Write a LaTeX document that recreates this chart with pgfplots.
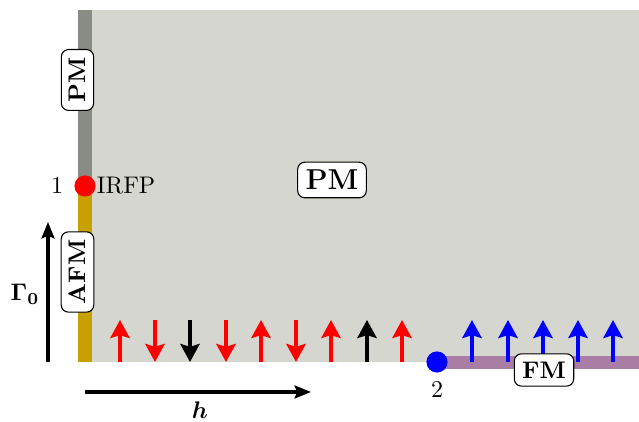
\documentclass[border=0pt]{standalone}
\usepackage{pgfplots}
\pgfplotsset{compat=1.18}
\usepackage{bm}
\usetikzlibrary{arrows.meta}
\definecolor{bggray}{RGB}{212,214,207}
\definecolor{pmgray}{RGB}{137,139,133}
\definecolor{afmgold}{RGB}{200,160,0}
\definecolor{fmpurple}{RGB}{170,125,165}
\tikzset{
  lbl/.style={draw=black, fill=white, rounded corners=3pt, line width=0.45pt, font=\bfseries, inner sep=3.3pt},
  spin/.style={line width=1.67pt, -{Stealth[length=7.5pt,width=8pt,inset=1.2pt]}},
  ax/.style={line width=1.3pt, black, -{Stealth[length=6.8pt,width=5.4pt,inset=1pt]}},
}
\begin{document}
\begin{tikzpicture}
\begin{axis}[
  scale only axis, width=266.25pt, height=175.83pt,
  xmin=0, xmax=639, ymin=0, ymax=422, y dir=reverse,
  hide axis, clip=false,
]
\coordinate (bbA) at (rel axis cs:0,0);
\coordinate (bbB) at (rel axis cs:1,1);
% PM region
\addplot[fill=bggray, draw=none] coordinates {(85,10) (639,10) (639,362) (85,362)} -- cycle;
% left phase lines
\addplot[pmgray, line width=5.83pt] coordinates {(85,10) (85,186)};
\addplot[afmgold, line width=5.83pt] coordinates {(85,186) (85,362)};
% FM line
\addplot[fmpurple, line width=5.4pt] coordinates {(437,362.5) (639,362.5)};
% spin arrows
\addplot[red, spin] coordinates {(120,362) (120,320)};
\addplot[red, spin] coordinates {(155,320) (155,362)};
\addplot[black, spin] coordinates {(190,320) (190,362)};
\addplot[red, spin] coordinates {(226,320) (226,362)};
\addplot[red, spin] coordinates {(261,362) (261,320)};
\addplot[red, spin] coordinates {(296,320) (296,362)};
\addplot[red, spin] coordinates {(331,362) (331,320)};
\addplot[black, spin] coordinates {(367,362) (367,320)};
\addplot[red, spin] coordinates {(402,362) (402,320)};
\addplot[blue, spin] coordinates {(472,362) (472,320)};
\addplot[blue, spin] coordinates {(508,362) (508,320)};
\addplot[blue, spin] coordinates {(543,362) (543,320)};
\addplot[blue, spin] coordinates {(578,362) (578,320)};
\addplot[blue, spin] coordinates {(613,362) (613,320)};
% special points
\addplot[only marks, mark=*, mark size=4.2pt, red, mark options={draw=red, fill=red}] coordinates {(85,186)};
\addplot[only marks, mark=*, mark size=4.2pt, blue, mark options={draw=blue, fill=blue}] coordinates {(437,362)};
% axis arrows
\addplot[ax] coordinates {(48,362) (48,222)};
\addplot[ax] coordinates {(85,392) (311,392)};
% labels
\node[lbl, rotate=90] at (axis cs:77.5,80) {PM};
\node[lbl, rotate=90] at (axis cs:77.5,272) {AFM};
\node[lbl, font=\large\bfseries] at (axis cs:332,180) {PM};
\node[lbl] at (axis cs:544,370) {FM};
\node at (axis cs:57,186) {1};
\node[anchor=west, inner sep=0pt] at (axis cs:96.5,186) {IRFP};
\node at (axis cs:437,390) {2};
\node at (axis cs:25,294) {$\bm{\Gamma_0}$};
\node at (axis cs:200,410) {$\bm{h}$};
\end{axis}
\pgfresetboundingbox
\path (bbA) rectangle (bbB);
\end{tikzpicture}
\end{document}
